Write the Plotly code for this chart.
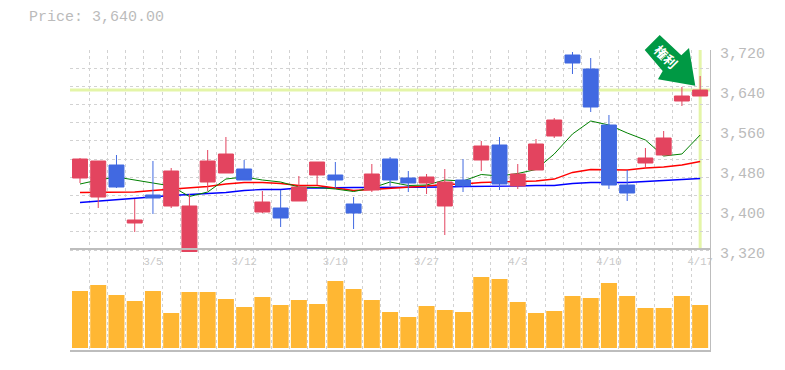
import plotly.graph_objects as go

# Trading sessions; only the labelled ones carry a date
tick_index = [4, 9, 14, 19, 24, 29, 34]
tick_dates = ["3/5", "3/12", "3/19", "3/27", "4/3", "4/10", "4/17"]
price_ticks = [3320, 3400, 3480, 3560, 3640, 3720]
price_labels = ["3,320", "3,400", "3,480", "3,560", "3,640", "3,720"]
last_price = 3640

opens = [3464, 3426, 3490, 3374, 3430, 3408, 3316, 3456, 3474, 3482, 3396, 3404, 3418, 3470, 3470, 3412, 3440, 3502,
         3464, 3454, 3408, 3460, 3500, 3530, 3448, 3480, 3548, 3710, 3682, 3570, 3450, 3494, 3510, 3618, 3628]
closes = [3502, 3498, 3446, 3380, 3424, 3478, 3408, 3498, 3512, 3460, 3416, 3384, 3446, 3496, 3460, 3394, 3472, 3460,
          3454, 3466, 3456, 3448, 3528, 3452, 3472, 3532, 3580, 3694, 3606, 3450, 3434, 3504, 3544, 3628, 3640]
highs = [3504, 3498, 3510, 3422, 3498, 3484, 3432, 3520, 3546, 3500, 3438, 3440, 3468, 3496, 3496, 3426, 3492, 3506,
         3478, 3472, 3482, 3502, 3538, 3546, 3492, 3542, 3584, 3716, 3704, 3590, 3480, 3524, 3558, 3646, 3668]
lows = [3454, 3404, 3444, 3356, 3392, 3404, 3316, 3438, 3474, 3460, 3394, 3366, 3418, 3450, 3444, 3362, 3436, 3448,
        3436, 3432, 3350, 3436, 3478, 3440, 3442, 3480, 3544, 3672, 3596, 3442, 3418, 3486, 3510, 3608, 3628]
ma_short = [3452, 3460, 3466, 3460, 3454, 3448, 3427, 3436, 3462, 3466, 3460, 3456, 3446, 3445, 3442, 3437, 3444, 3456,
            3449, 3450, 3460, 3458, 3471, 3468, 3473, 3481, 3512, 3552, 3578, 3570, 3554, 3540, 3508, 3512, 3550]
ma_mid = [3435, 3435, 3435, 3436, 3439, 3442, 3445, 3447, 3452, 3455, 3455, 3453, 3449, 3449, 3444, 3439, 3441, 3443,
          3445, 3448, 3451, 3452, 3455, 3456, 3457, 3458, 3462, 3475, 3481, 3481, 3480, 3484, 3486, 3490, 3497]
ma_long = [3415, 3418, 3421, 3424, 3427, 3429, 3431, 3433, 3435, 3439, 3441, 3441, 3444, 3444, 3445, 3445, 3445, 3445,
           3445, 3445, 3446, 3447, 3447, 3447, 3448, 3449, 3449, 3453, 3455, 3455, 3455, 3457, 3459, 3461, 3463]
volumes = [57, 63, 53, 47, 57, 35, 56, 56, 49, 41, 51, 43, 48, 44, 67, 59, 48, 36,
           31, 42, 38, 36, 71, 69, 46, 35, 37, 52, 50, 65, 52, 40, 40, 52, 43]

RED, BLUE, ORANGE = "#e3445f", "#4169e1", "#ffb733"
GRID, AXIS, TEXT, DATE_TEXT, HILITE = "#d2d2d2", "#bdbdbd", "#bbbbbb", "#c8c8c8", "#e4f5a8"
FONT = "Liberation Mono"
W, H, L, R, T, B = 785, 370, 70, 75, 50, 20
n = len(closes)
xs = list(range(n))
xrange = [-0.548, 34.54]
price_range = [3316, 3720]
price_domain = [(H - B - 252) / (H - T - B), 1]
grid_x = [i - 0.5 for i in range(n + 1)]
grid_y = [3320 + (400 / 11) * k for k in range(12)]


def px(xp, yp):
    return (xp - L) / (W - L - R), (H - B - yp) / (H - T - B)


arrow_px = [(659.7, 35), (644.7, 50), (662.7, 71), (658, 79.3), (695.3, 85.7), (689, 48), (681.3, 55.3)]
arrow_path = "M " + " L ".join("{:.4f},{:.4f}".format(*px(*p)) for p in arrow_px) + " Z"

fig = go.Figure()
for vals, col, w in [(ma_long, "#0000ff", 1.3), (ma_mid, "#ff0000", 1.3), (ma_short, "#008000", 1)]:
    fig.add_trace(go.Scatter(x=xs, y=vals, mode="lines", line=dict(color=col, width=w),
                             xaxis="x", yaxis="y", showlegend=False, hoverinfo="skip"))
fig.add_trace(go.Candlestick(x=xs, open=opens, high=highs, low=lows, close=closes,
                             increasing=dict(line=dict(color=RED, width=1), fillcolor=RED),
                             decreasing=dict(line=dict(color=BLUE, width=1), fillcolor=BLUE),
                             whiskerwidth=0, xaxis="x", yaxis="y3", showlegend=False))
fig.add_trace(go.Bar(x=xs, y=volumes, marker=dict(color=ORANGE, line=dict(width=0)), width=0.877,
                     xaxis="x2", yaxis="y2", showlegend=False))

minor_x = dict(tickvals=grid_x, showgrid=True, gridcolor=GRID, griddash="3px,3px", gridwidth=1, ticks="")
fig.update_layout(
    width=W, height=H, margin=dict(l=L, r=R, t=T, b=B, autoexpand=False), autosize=False,
    paper_bgcolor="white", plot_bgcolor="rgba(0,0,0,0)", boxgap=0.18, boxgroupgap=0, showlegend=False,
    xaxis=dict(domain=[0, 1], range=xrange, anchor="y", rangeslider=dict(visible=False), tickmode="array",
               tickvals=tick_index, ticktext=tick_dates, showgrid=False, zeroline=False, showline=False,
               ticks="", ticklabelstandoff=1, tickfont=dict(family=FONT, size=10.5, color=DATE_TEXT), minor=minor_x),
    yaxis=dict(domain=price_domain, range=price_range, side="right", anchor="x",
               tickmode="array", tickvals=price_ticks, ticktext=price_labels, showgrid=False, zeroline=False,
               showline=True, linecolor=AXIS, linewidth=1, ticks="", ticklabelshift=3, ticklabelstandoff=6,
               tickfont=dict(family=FONT, size=15, color=TEXT),
               minor=dict(tickvals=grid_y, showgrid=True, gridcolor=GRID, griddash="3px,3px", gridwidth=1, ticks="")),
    yaxis3=dict(domain=price_domain, range=price_range, overlaying="y", side="right", anchor="x", visible=False,
                showgrid=False, zeroline=False),
    xaxis2=dict(domain=[0, 1], range=xrange, anchor="y2", showticklabels=False, showgrid=False, zeroline=False,
                showline=True, linecolor=AXIS, linewidth=2, mirror=True, ticks="", tickmode="array",
                tickvals=tick_index, ticktext=tick_dates, minor=minor_x),
    yaxis2=dict(domain=[0, 100 / 300], range=[-2, 98], side="right", anchor="x2", showticklabels=False,
                showgrid=False, zeroline=False, showline=True, linecolor=AXIS, linewidth=1, ticks=""),
    shapes=[
        dict(type="line", xref="x domain", yref="y", x0=0, x1=1, y0=last_price, y1=last_price,
             line=dict(color=HILITE, width=3), layer="below"),
        dict(type="line", xref="x", yref="y", x0=n - 1, x1=n - 1, y0=3320, y1=3720,
             line=dict(color=HILITE, width=3), layer="below"),
        dict(type="path", xref="paper", yref="paper", path=arrow_path, fillcolor="#009944",
             line=dict(width=0), layer="above"),
    ],
    annotations=[
        dict(xref="paper", yref="paper", x=px(27, 18)[0], y=px(27, 18)[1], xanchor="left", yanchor="middle",
             text="Price: 3,640.00", showarrow=False, font=dict(family=FONT, size=15, color=TEXT)),
        dict(xref="paper", yref="paper", x=px(666, 56.7)[0], y=px(666, 56.7)[1], xanchor="center", yanchor="middle",
             text="<b>\u6a29\u5229</b>", textangle=45, showarrow=False,
             font=dict(family="Noto Sans CJK JP", size=13, color="white")),
    ],
)
fig.write_html("out.html", post_script="document.body.style.margin='0';", config={"displayModeBar": False})
